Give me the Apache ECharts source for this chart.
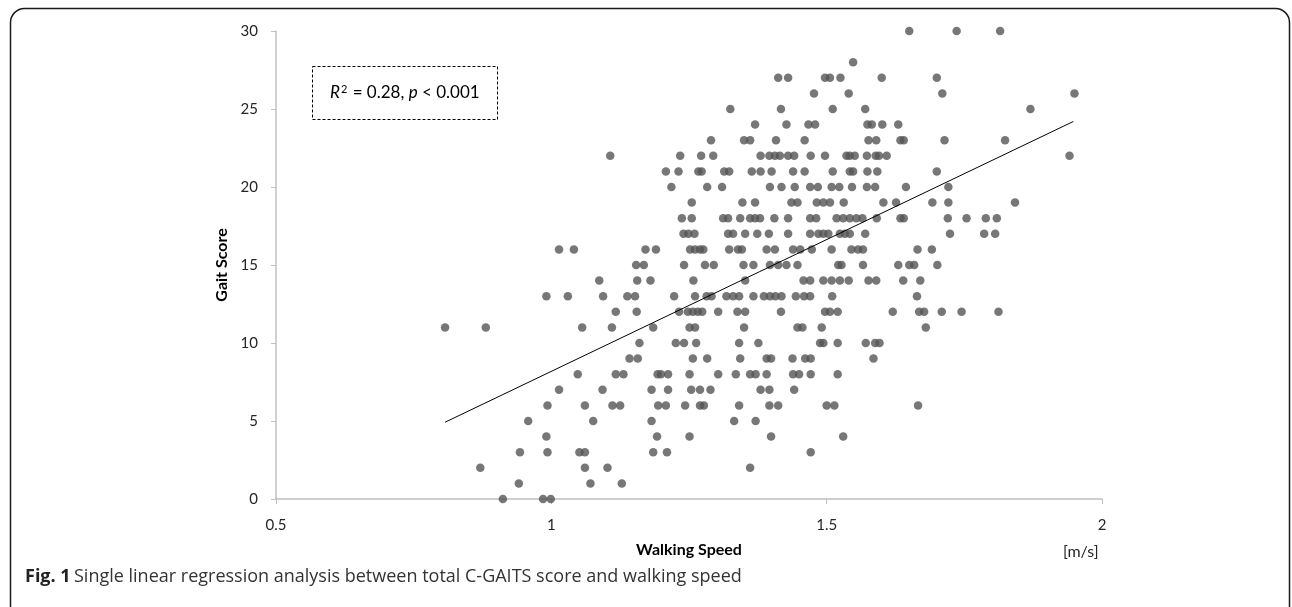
<!doctype html>
<html>
<head>
<meta charset="utf-8">
<script src="https://cdn.jsdelivr.net/npm/echarts@6/dist/echarts.min.js"></script>
<style>
    html, body { margin: 0; padding: 0; background: #fff; }
    #chart { width: 1292px; height: 607px; }
</style>
</head>
<body>
<div id="chart"></div>
<script>
// gait score levels and the walking speeds (m/s) at each level
var scoreLevels = [30, 28, 27, 26, 25, 24, 23, 22, 21, 20, 19, 18, 17, 16, 15, 14, 13, 12, 11, 10, 9, 8, 7, 6, 5, 4, 3, 2, 1, 0];
var speedsByLevel = [
    [1.650, 1.736, 1.815],
    [1.548],
    [1.412, 1.430, 1.497, 1.506, 1.525, 1.600, 1.700],
    [1.477, 1.540, 1.710, 1.950],
    [1.325, 1.417, 1.511, 1.570, 1.870],
    [1.370, 1.427, 1.467, 1.479, 1.574, 1.582, 1.601, 1.630],
    [1.290, 1.350, 1.361, 1.408, 1.460, 1.576, 1.590, 1.634, 1.640, 1.714, 1.824],
    [1.107, 1.234, 1.272, 1.294, 1.380, 1.396, 1.406, 1.415, 1.430, 1.441, 1.471, 1.497, 1.536, 1.542, 1.551, 1.573, 1.589, 1.595, 1.609, 1.941],
    [1.208, 1.231, 1.267, 1.273, 1.314, 1.323, 1.364, 1.380, 1.400, 1.439, 1.460, 1.511, 1.542, 1.548, 1.574, 1.592, 1.700],
    [1.218, 1.283, 1.310, 1.397, 1.418, 1.442, 1.470, 1.484, 1.509, 1.523, 1.546, 1.573, 1.588, 1.644, 1.721],
    [1.255, 1.347, 1.370, 1.436, 1.447, 1.482, 1.494, 1.506, 1.531, 1.603, 1.626, 1.692, 1.721, 1.842],
    [1.237, 1.255, 1.312, 1.321, 1.343, 1.361, 1.370, 1.379, 1.405, 1.430, 1.470, 1.481, 1.518, 1.530, 1.542, 1.554, 1.565, 1.591, 1.634, 1.640, 1.720, 1.754, 1.789, 1.809],
    [1.240, 1.249, 1.260, 1.321, 1.330, 1.352, 1.374, 1.395, 1.430, 1.470, 1.485, 1.494, 1.503, 1.524, 1.533, 1.542, 1.570, 1.724, 1.786, 1.806],
    [1.014, 1.041, 1.171, 1.190, 1.252, 1.261, 1.270, 1.276, 1.323, 1.339, 1.346, 1.391, 1.406, 1.439, 1.452, 1.473, 1.509, 1.545, 1.557, 1.566, 1.665, 1.691],
    [1.154, 1.168, 1.241, 1.279, 1.295, 1.349, 1.367, 1.397, 1.412, 1.427, 1.447, 1.521, 1.527, 1.566, 1.630, 1.650, 1.659, 1.701],
    [1.087, 1.156, 1.180, 1.258, 1.352, 1.458, 1.470, 1.494, 1.509, 1.524, 1.540, 1.576, 1.590, 1.639, 1.670],
    [0.991, 1.030, 1.094, 1.138, 1.152, 1.223, 1.261, 1.282, 1.291, 1.318, 1.330, 1.341, 1.367, 1.386, 1.397, 1.407, 1.418, 1.444, 1.459, 1.470, 1.510, 1.664],
    [1.117, 1.155, 1.232, 1.248, 1.257, 1.266, 1.274, 1.303, 1.338, 1.352, 1.417, 1.497, 1.506, 1.520, 1.620, 1.668, 1.677, 1.709, 1.745, 1.812],
    [0.807, 0.881, 1.056, 1.110, 1.185, 1.251, 1.261, 1.350, 1.447, 1.456, 1.491, 1.680],
    [1.160, 1.226, 1.241, 1.263, 1.341, 1.376, 1.488, 1.494, 1.520, 1.571, 1.588, 1.596],
    [1.142, 1.157, 1.257, 1.283, 1.343, 1.391, 1.399, 1.438, 1.461, 1.471, 1.585],
    [1.048, 1.117, 1.131, 1.193, 1.199, 1.212, 1.251, 1.303, 1.335, 1.361, 1.371, 1.391, 1.439, 1.450, 1.471, 1.520],
    [1.014, 1.093, 1.182, 1.212, 1.254, 1.270, 1.289, 1.380, 1.396, 1.441],
    [0.993, 1.061, 1.111, 1.125, 1.194, 1.208, 1.243, 1.270, 1.277, 1.341, 1.396, 1.412, 1.500, 1.514, 1.666],
    [0.958, 1.076, 1.182, 1.332, 1.371],
    [0.991, 1.192, 1.251, 1.399, 1.530],
    [0.943, 0.993, 1.051, 1.061, 1.185, 1.210, 1.471],
    [0.871, 1.061, 1.102, 1.361],
    [0.941, 1.071, 1.128],
    [0.912, 0.985, 0.999]
];

// regression line end points as drawn
var trendSpeed = [0.807, 1.948];
var trendScore = [4.92, 24.2];

var xTicks = [0.5, 1, 1.5, 2];
var yTicks = [0, 5, 10, 15, 20, 25, 30];

var points = [];
for (var i = 0; i < scoreLevels.length; i++) {
    for (var j = 0; j < speedsByLevel[i].length; j++) {
        points.push([speedsByLevel[i][j], scoreLevels[i]]);
    }
}
var trend = [[trendSpeed[0], trendScore[0]], [trendSpeed[1], trendScore[1]]];

var chartFont = 'Lato';
var capFont = '"Open Sans"';

var myChart = echarts.init(document.getElementById('chart'), null, {renderer: 'canvas'});

var option = {
    animation: false,
    grid: { left: 276, right: 190, top: 31, bottom: 108 },
    xAxis: {
        type: 'value',
        min: xTicks[0],
        max: xTicks[xTicks.length - 1],
        interval: 0.5,
        name: 'Walking Speed',
        nameLocation: 'middle',
        nameGap: 43,
        nameTextStyle: { fontFamily: chartFont, fontWeight: 'bold', fontSize: 16, color: '#000' },
        axisLine: { lineStyle: { color: '#bfbfbf', width: 1.5 } },
        axisTick: { show: true, length: 5, lineStyle: { color: '#bfbfbf' } },
        splitLine: { show: false },
        axisLabel: { margin: 19, fontFamily: chartFont, fontSize: 15, color: '#262626' }
    },
    yAxis: {
        type: 'value',
        min: yTicks[0],
        max: yTicks[yTicks.length - 1],
        interval: 5,
        name: 'Gait Score',
        nameLocation: 'middle',
        nameGap: 44,
        nameRotate: 90,
        nameTextStyle: { fontFamily: chartFont, fontWeight: 'bold', fontSize: 16, color: '#000' },
        axisLine: { show: true, lineStyle: { color: '#bfbfbf', width: 1.5 } },
        axisTick: { show: true, length: 5, lineStyle: { color: '#bfbfbf' } },
        splitLine: { show: false },
        axisLabel: { margin: 18, fontFamily: chartFont, fontSize: 15, color: '#262626' }
    },
    series: [
        {
            type: 'scatter',
            data: points,
            symbol: 'circle',
            symbolSize: 8.5,
            itemStyle: { color: '#555555' },
            z: 3
        },
        {
            type: 'line',
            data: trend,
            showSymbol: false,
            symbol: 'none',
            lineStyle: { color: '#000', width: 1 },
            z: 4
        }
    ],
    graphic: [
        {
            type: 'rect',
            shape: { x: 10.5, y: 8.5, width: 1279, height: 640, r: 14 },
            style: { fill: 'none', stroke: '#1a1a1a', lineWidth: 1.5 },
            silent: true
        },
        {
            type: 'rect',
            shape: { x: 312.5, y: 66.5, width: 185, height: 53 },
            style: { fill: '#fff', stroke: '#000', lineWidth: 1, lineDash: [3, 2] },
            z: 10
        },
        {
            type: 'text',
            left: 330,
            top: 84,
            z: 11,
            style: {
                text: '{i|R}{s|2}{n| = 0.28, }{i|p}{n| < 0.001}',
                rich: {
                    i: { fontFamily: chartFont, fontStyle: 'italic', fontSize: 17, fill: '#000' },
                    n: { fontFamily: chartFont, fontSize: 17, fill: '#000' },
                    s: { fontFamily: chartFont, fontSize: 11, fill: '#000', verticalAlign: 'top', padding: [0, 1, 7, 1] }
                }
            }
        },
        {
            type: 'text',
            left: 1063,
            top: 544,
            style: { text: '[m/s]', fontFamily: chartFont, fontSize: 16, fill: '#262626' }
        },
        {
            type: 'text',
            left: 25,
            top: 568,
            style: {
                text: '{b|Fig. 1} {r|Single linear regression analysis between total C-GAITS score and walking speed}',
                rich: {
                    b: { fontFamily: capFont, fontWeight: 'bold', fontSize: 18, fill: '#222' },
                    r: { fontFamily: capFont, fontSize: 18, fill: '#333' }
                }
            }
        }
    ]
};

myChart.setOption(option);
</script>
</body>
</html>
